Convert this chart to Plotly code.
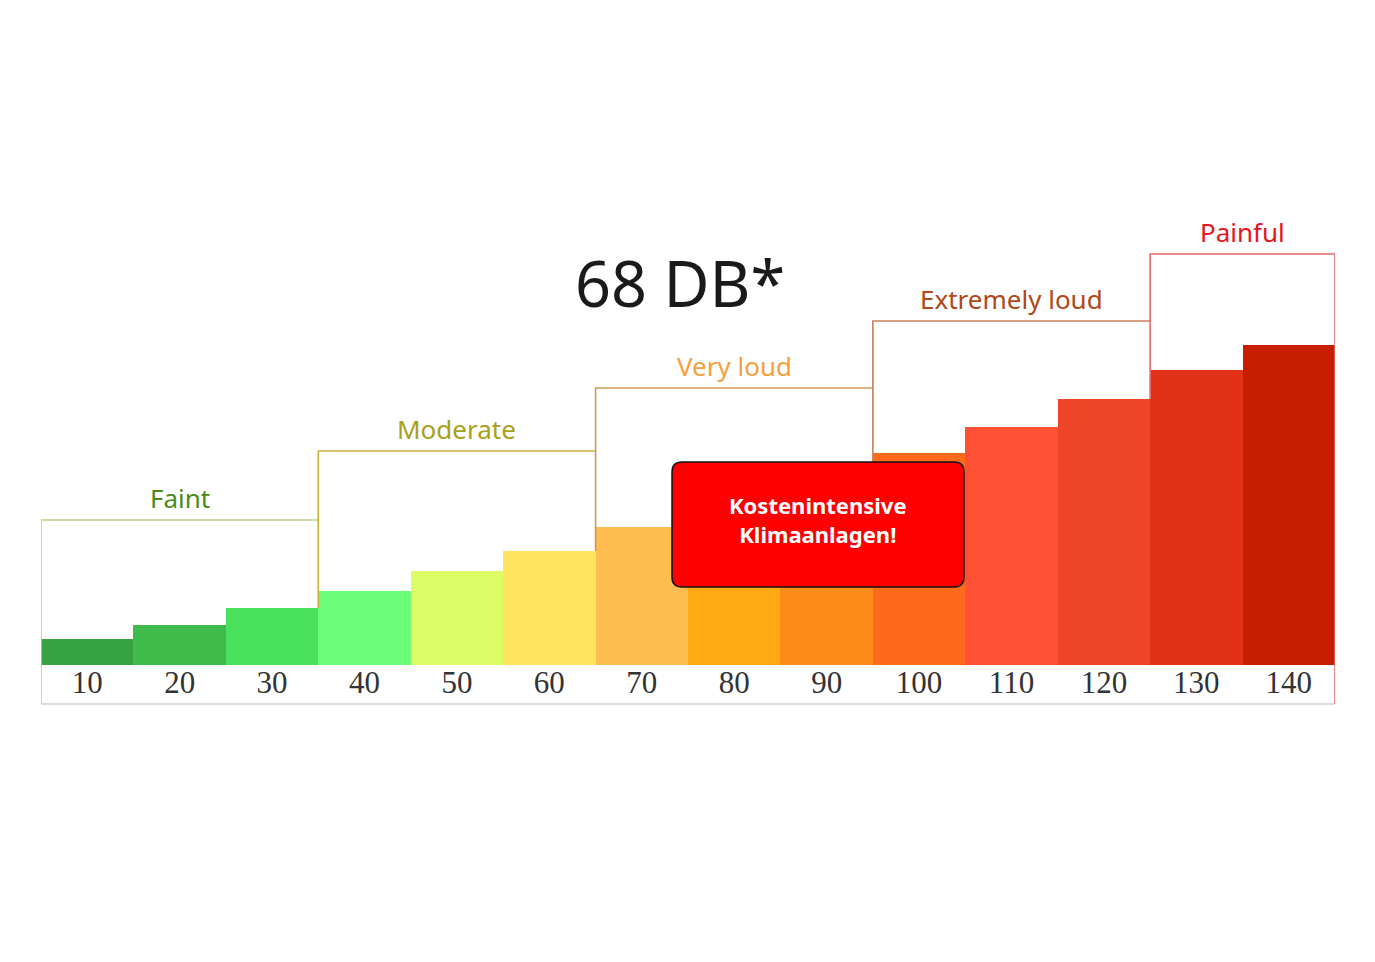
import plotly.graph_objects as go

# ---- data ----
categories = ["10", "20", "30", "40", "50", "60", "70", "80", "90", "100", "110", "120", "130", "140"]
bar_values = [26, 40, 57, 74, 94, 114, 138, 162, 186, 212, 238, 266, 295, 320]
bar_colors = ["#36a241", "#3fbb4b", "#49e05b", "#6dfc79", "#dcfc66", "#ffe45e",
              "#ffbc50", "#ffaa12", "#fc8c1a", "#fd6a1c", "#ff5034", "#ee4529",
              "#e13218", "#c81e00"]
group_names = ["Faint", "Moderate", "Very loud", "Extremely loud", "Painful"]
group_start = [0, 3, 6, 9, 12]
group_end = [2, 5, 8, 11, 13]
group_level = [145, 214, 277, 344, 411]
group_text_colors = ["#4a8c1c", "#a8a020", "#f7a03c", "#b04818", "#e8141e"]
group_line_colors = ["#bcd08a", "#cbb03a", "#d4955a", "#c97f5a", "#e26a6a"]
title_text = "68 DB*"
box_text = "Kostenintensive<br>Klimaanlagen!"

x = list(range(len(categories)))
STRIP = -39  # bottom of label strip

fig = go.Figure()
fig.add_trace(go.Bar(x=x, y=bar_values, marker=dict(color=bar_colors, line=dict(width=0)),
                     width=1.0, hoverinfo="skip", showlegend=False))
fig.add_trace(go.Scatter(x=x, y=[-20] * len(x), mode="text", text=categories,
                         textfont=dict(family="Liberation Serif", size=31, color="#333333"),
                         hoverinfo="skip", showlegend=False))

shapes = []
shapes.append(dict(type="line", xref="x", yref="y", x0=-0.5, x1=len(x) - 0.5, y0=STRIP, y1=STRIP,
                   line=dict(color="#dedede", width=2), layer="above"))
annotations = []
for i, name in enumerate(group_names):
    s, e, h = group_start[i], group_end[i], group_level[i]
    bottom = STRIP if s == 0 else bar_values[s - 1]
    col = group_line_colors[i]
    shapes.append(dict(type="path", xref="x", yref="y",
                       path=f"M {s-0.5} {bottom} L {s-0.5} {h} L {e+0.5} {h}",
                       line=dict(color=col, width=1.6), layer="above"))
    if i == len(group_names) - 1:
        shapes.append(dict(type="line", xref="x", yref="y", x0=e + 0.5, x1=e + 0.5, y0=STRIP, y1=h,
                           line=dict(color=col, width=1.6), layer="above"))
    annotations.append(dict(x=(s + e) / 2, y=h, xref="x", yref="y", text=name, showarrow=False,
                            yanchor="bottom", yshift=2,
                            font=dict(family="Noto Sans", size=26, color=group_text_colors[i])))

# red callout box (rounded rectangle)
bx0, bx1, by0, by1 = 6.327, 9.486, 78, 203
rx, ry = 0.11, 10
path = (f"M {bx0+rx} {by1} L {bx1-rx} {by1} Q {bx1} {by1} {bx1} {by1-ry} "
        f"L {bx1} {by0+ry} Q {bx1} {by0} {bx1-rx} {by0} L {bx0+rx} {by0} "
        f"Q {bx0} {by0} {bx0} {by0+ry} L {bx0} {by1-ry} Q {bx0} {by1} {bx0+rx} {by1} Z")
shapes.append(dict(type="path", xref="x", yref="y", path=path, fillcolor="#fe0000",
                   line=dict(color="#111111", width=1.5), layer="above"))
annotations.append(dict(x=(bx0 + bx1) / 2, y=(by0 + by1) / 2 + 5, xref="x", yref="y",
                        text=f"<b>{box_text}</b>", showarrow=False,
                        font=dict(family="Noto Sans", size=22, color="white")))
annotations.append(dict(x=6.413, y=383, xref="x", yref="y", text=title_text, showarrow=False,
                        font=dict(family="Noto Sans", size=63, color="#1a1a1a")))

fig.update_layout(
    width=1375, height=962,
    margin=dict(l=33, r=48, t=92, b=265),
    paper_bgcolor="white", plot_bgcolor="white",
    bargap=0,
    xaxis=dict(range=[-0.5, len(x) - 0.5], visible=False, fixedrange=True),
    yaxis=dict(range=[-40, 565], visible=False, fixedrange=True),
    shapes=shapes, annotations=annotations,
)
fig.write_html("out.html", config={"displayModeBar": False})
